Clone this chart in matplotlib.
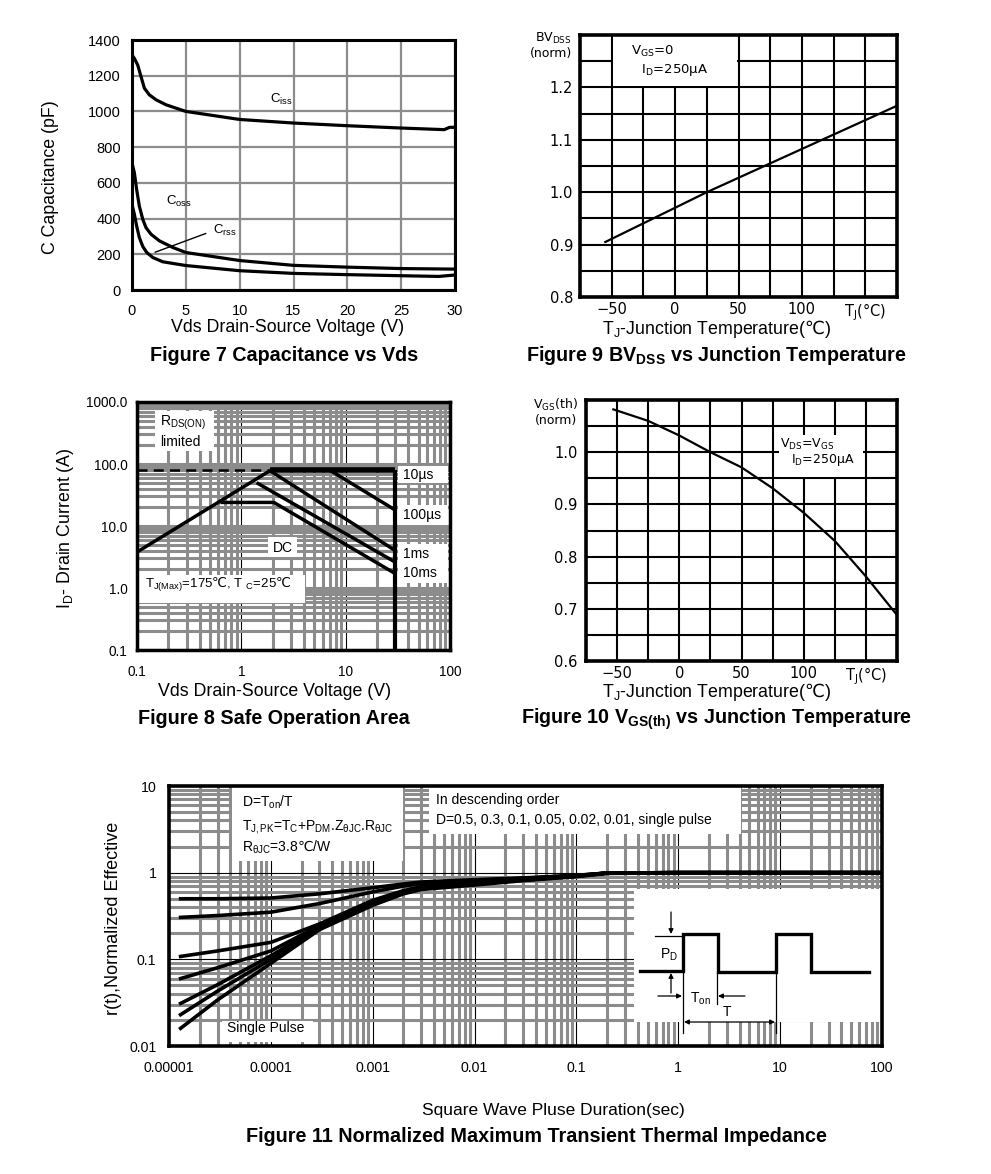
import numpy as np
import matplotlib
matplotlib.use('Agg')
import matplotlib.pyplot as plt
from matplotlib.patches import Rectangle
from matplotlib.ticker import LogLocator, NullFormatter, FixedLocator, FixedFormatter

plt.rcParams['font.family'] = ['Liberation Sans', 'DejaVu Sans']
plt.rcParams['mathtext.fontset'] = 'custom'
plt.rcParams['mathtext.rm'] = 'Liberation Sans'
plt.rcParams['mathtext.it'] = 'Liberation Sans:italic'
plt.rcParams['mathtext.bf'] = 'Liberation Sans:bold'
plt.rcParams['mathtext.sf'] = 'DejaVu Sans'
plt.rcParams['mathtext.default'] = 'regular'
plt.rcParams['mathtext.fallback'] = 'stixsans'

# ---------------- Data ----------------
# Figure 7: capacitance vs Vds
ciss_v = [0, 0.22, 0.53, 0.84, 1.15, 1.61, 2.24, 3.17, 5, 10, 15, 20, 25, 29, 29.5, 30]
ciss_pf = [1316, 1297, 1260, 1195, 1130, 1093, 1065, 1037, 1000, 955, 935, 920, 907, 898, 911, 911]
coss_v = [0, 0.22, 0.43, 0.68, 1.0, 1.3, 1.77, 2.55, 3.8, 5, 10, 15, 20, 25, 30]
coss_pf = [712, 656, 563, 470, 396, 349, 312, 275, 238, 210, 165, 138, 128, 120, 117]
crss_v = [0, 0.22, 0.43, 0.68, 1.0, 1.37, 1.93, 2.86, 5, 10, 15, 20, 25, 28.5, 30]
crss_pf = [480, 424, 359, 294, 244, 210, 182, 158, 137, 108, 93, 86, 80, 76, 84]

# Figure 8: safe operating area
soa_rds_v = [0.1, 1.88]
soa_rds_i = [3.8, 78]
soa_dash_v = [0.1, 1.88]
soa_dash_i = [80, 80]
soa_lim_v = [1.88, 30]
soa_lim_i = [80, 80]
soa_vmax_v = [30, 30]
soa_vmax_i = [80, 0.1]
soa_10us_v = [7.0, 30]
soa_10us_i = [80, 18]
soa_100us_v = [1.88, 30]
soa_100us_i = [78, 4.0]
soa_1ms_v = [1.4, 30]
soa_1ms_i = [50, 2.6]
soa_10ms_v = [0.63, 2.05, 30]
soa_10ms_i = [24, 24, 1.7]

# Figure 9: BVDSS vs Tj
bv_tj = [-55, 25, 175]
bv_norm = [0.905, 1.0, 1.165]

# Figure 10: VGS(th) vs Tj
vth_tj = [-53, -25, 0, 25, 50, 75, 100, 125, 150, 175]
vth_norm = [1.082, 1.06, 1.032, 1.0, 0.971, 0.931, 0.884, 0.83, 0.762, 0.688]

# Figure 11: transient thermal impedance
zth_t = [1.3e-5, 3e-5, 1e-4, 3e-4, 1e-3, 2e-3, 3e-3, 1e-2, 3e-2, 1e-1, 2e-1, 1, 10, 100]
zth_d05 = [0.50, 0.50, 0.51, 0.57, 0.67, 0.74, 0.78, 0.83, 0.87, 0.93, 0.99, 1.0, 1.0, 1.0]
zth_d03 = [0.305, 0.32, 0.35, 0.44, 0.60, 0.70, 0.75, 0.81, 0.86, 0.93, 0.99, 1.0, 1.0, 1.0]
zth_d01 = [0.108, 0.125, 0.157, 0.256, 0.48, 0.62, 0.69, 0.78, 0.85, 0.92, 0.99, 1.0, 1.0, 1.0]
zth_d005 = [0.060, 0.080, 0.125, 0.245, 0.46, 0.60, 0.67, 0.77, 0.84, 0.92, 0.99, 1.0, 1.0, 1.0]
zth_d002 = [0.031, 0.051, 0.110, 0.235, 0.44, 0.59, 0.66, 0.75, 0.83, 0.91, 0.99, 1.0, 1.0, 1.0]
zth_d001 = [0.023, 0.043, 0.100, 0.230, 0.43, 0.58, 0.65, 0.74, 0.82, 0.91, 0.99, 1.0, 1.0, 1.0]
zth_single = [0.016, 0.034, 0.090, 0.220, 0.42, 0.57, 0.64, 0.72, 0.81, 0.90, 0.98, 1.0, 1.0, 1.0]

# ---------------- Figure ----------------
W, H = 991, 1174
fig = plt.figure(figsize=(W / 100, H / 100), dpi=100)
fig.patch.set_facecolor('white')

DEGC = '$\\mathsf{\u2103}$'
LAB = 12.8
TIT = 14.2


def ax_px(l, t, r, b):
    return fig.add_axes([l / W, 1 - b / H, (r - l) / W, (b - t) / H])


def ftext(x, y, s, **kw):
    return fig.text(x / W, 1 - y / H, s, **kw)


def frame(ax, lw):
    for sp in ax.spines.values():
        sp.set_linewidth(lw)
        sp.set_color('black')


GRAY = '#8c8c8c'
TXT = dict(ha='center', va='center')

# ---- Figure 7 ----
ax7 = ax_px(132, 40, 455, 290)
ax7.set_xlim(0, 30)
ax7.set_ylim(0, 1400)
ax7.set_xticks(range(0, 31, 5))
ax7.set_yticks(range(0, 1401, 200))
ax7.grid(color=GRAY, lw=1.6)
ax7.tick_params(length=0, labelsize=10.5)
ax7.tick_params(axis='x', pad=10)
ax7.tick_params(axis='y', pad=8)
frame(ax7, 2.2)
for xv, yv in ((ciss_v, ciss_pf), (coss_v, coss_pf), (crss_v, crss_pf)):
    ax7.plot(xv, yv, color='black', lw=2.3, zorder=3, solid_capstyle='butt')
ax7.text(12.8, 1067, 'C$_{iss}$', fontsize=9.5, va='center')
ax7.text(3.2, 498, 'C$_{oss}$', fontsize=9.5, va='center')
ax7.text(7.5, 331, 'C$_{rss}$', fontsize=9.5, va='center')
ax7.annotate('', xy=(1.9, 206), xytext=(7.1, 322),
             arrowprops=dict(arrowstyle='-', lw=1.0, color='black'))
ftext(288, 328, 'Vds Drain-Source Voltage (V)', fontsize=LAB, **TXT)
ftext(51, 177, 'C Capacitance (pF)', fontsize=LAB, rotation=90, **TXT)
ftext(284, 355, 'Figure 7 Capacitance vs Vds', fontsize=TIT, fontweight='bold', **TXT)

# ---- Figure 8 ----
ax8 = ax_px(137, 402, 450, 650)
ax8.set_xscale('log')
ax8.set_yscale('log')
ax8.set_xlim(0.1, 100)
ax8.set_ylim(0.1, 1000)
ax8.xaxis.set_major_locator(FixedLocator([0.1, 1, 10, 100]))
ax8.xaxis.set_major_formatter(FixedFormatter(['0.1', '1', '10', '100']))
ax8.yaxis.set_major_locator(FixedLocator([0.1, 1, 10, 100, 1000]))
ax8.yaxis.set_major_formatter(FixedFormatter(['0.1', '1.0', '10.0', '100.0', '1000.0']))
for axis in (ax8.xaxis, ax8.yaxis):
    axis.set_minor_locator(LogLocator(base=10, subs=np.arange(2, 10), numticks=20))
    axis.set_minor_formatter(NullFormatter())
ax8.xaxis.grid(True, which='minor', color=GRAY, lw=2.2)
ax8.yaxis.grid(True, which='minor', color=GRAY, lw=2.2)
ax8.xaxis.grid(True, which='major', color='black', lw=0.8)
ax8.yaxis.grid(True, which='major', color=GRAY, lw=2.2)
ax8.tick_params(which='both', length=0, labelsize=9.8)
ax8.tick_params(axis='x', pad=11)
ax8.tick_params(axis='y', pad=7)
frame(ax8, 2.5)
for (x0, x1, y0, y1) in ((0.15, 0.55, 164, 725), (32, 95, 49, 93), (32, 95, 10.4, 21.8),
                         (32, 95, 1.2, 5.1), (1.8, 3.4, 3.2, 6.6), (0.104, 4.1, 0.57, 1.6)):
    ax8.add_patch(Rectangle((x0, y0), x1 - x0, y1 - y0, facecolor='white', edgecolor='none', zorder=2))
ax8.plot(soa_dash_v, soa_dash_i, color='black', lw=1.8, ls=(0, (4, 2.5)), zorder=3)
for xv, yv, lw in ((soa_rds_v, soa_rds_i, 2.5), (soa_lim_v, soa_lim_i, 4.0), (soa_vmax_v, soa_vmax_i, 3.0),
                   (soa_10us_v, soa_10us_i, 2.5), (soa_100us_v, soa_100us_i, 2.5),
                   (soa_1ms_v, soa_1ms_i, 2.5), (soa_10ms_v, soa_10ms_i, 2.5)):
    ax8.plot(xv, yv, color='black', lw=lw, zorder=3, solid_capstyle='butt')
ax8.text(0.166, 457, 'R$_{DS(ON)}$', fontsize=10, va='center', zorder=4)
ax8.text(0.166, 226, 'limited', fontsize=10, va='center', zorder=4)
ax8.text(35.5, 66, '10µs', fontsize=10, va='center', zorder=4)
ax8.text(35.5, 15, '100µs', fontsize=10, va='center', zorder=4)
ax8.text(35.5, 3.5, '1ms', fontsize=10, va='center', zorder=4)
ax8.text(35.5, 1.75, '10ms', fontsize=10, va='center', zorder=4)
ax8.text(2.0, 4.4, 'DC', fontsize=10, va='center', zorder=4)
ax8.text(0.119, 1.12, 'T$_{J(Max)}$=175' + DEGC + ', T $_C$=25' + DEGC, fontsize=9.5, va='center', zorder=4)
ftext(65, 528, 'I$_D$- Drain Current (A)', fontsize=LAB, rotation=90, **TXT)
ftext(275, 692, 'Vds Drain-Source Voltage (V)', fontsize=LAB, **TXT)
ftext(274, 718, 'Figure 8 Safe Operation Area', fontsize=TIT, fontweight='bold', **TXT)


# ---- Figures 9 and 10 ----
def temp_axes(ax, ylo, yhi, ylabels):
    ax.set_xlim(-75, 175)
    ax.set_ylim(ylo, yhi)
    xt = list(range(-75, 176, 25))
    xl = {-50: '\u221250', 0: '0', 50: '50', 100: '100', 150: 'T$_J$(°C)'}
    ax.xaxis.set_major_locator(FixedLocator(xt))
    ax.xaxis.set_major_formatter(FixedFormatter([xl.get(v, '') for v in xt]))
    yt = [round(ylo + 0.05 * k, 2) for k in range(int(round((yhi - ylo) / 0.05)) + 1)]
    ax.yaxis.set_major_locator(FixedLocator(yt))
    ax.yaxis.set_major_formatter(FixedFormatter([('%.1f' % v) if v in ylabels else '' for v in yt]))
    ax.grid(color='black', lw=1.5)
    ax.tick_params(length=0, labelsize=10.5)
    for lab in ax.get_xticklabels() + ax.get_yticklabels():
        lab.set_fontfamily('DejaVu Sans')
    frame(ax, 2.6)


ax9 = ax_px(580, 35, 897, 297)
temp_axes(ax9, 0.8, 1.3, [0.8, 0.9, 1.0, 1.1, 1.2])
ax9.tick_params(axis='x', pad=3.5)
ax9.tick_params(axis='y', pad=5)
ax9.add_patch(Rectangle((-49, 1.202), 98, 0.1, facecolor='white', edgecolor='none', zorder=2))
ax9.plot(bv_tj, bv_norm, color='black', lw=1.6, zorder=3)
ax9.text(-35, 1.268, 'V$_{GS}$=0', fontsize=9.5, va='center', family='DejaVu Sans', zorder=4)
ax9.text(-27, 1.234, 'I$_D$=250$\\mu$A', fontsize=9.5, va='center', family='DejaVu Sans', zorder=4)
ftext(572, 38, 'BV$_{DSS}$', fontsize=9, ha='right', va='center', family='DejaVu Sans')
ftext(572, 54, '(norm)', fontsize=9, ha='right', va='center', family='DejaVu Sans')
ftext(717, 329, 'T$_J$-Junction Temperature(' + DEGC + ')', fontsize=LAB, **TXT)
ftext(716, 355, 'Figure 9 BV$_{DSS}$ vs Junction Temperature', fontsize=TIT, fontweight='bold', **TXT)

ax10 = ax_px(586, 400, 897, 661)
temp_axes(ax10, 0.6, 1.1, [0.6, 0.7, 0.8, 0.9, 1.0])
ax10.tick_params(axis='x', pad=3.5)
ax10.tick_params(axis='y', pad=6)
ax10.add_patch(Rectangle((80.5, 0.953), 67.5, 0.08, facecolor='white', edgecolor='none', zorder=2))
ax10.plot(vth_tj, vth_norm, color='black', lw=1.6, zorder=3)
ax10.text(81, 1.014, 'V$_{DS}$=V$_{GS}$', fontsize=9, va='center', family='DejaVu Sans', zorder=4)
ax10.text(89.5, 0.986, 'I$_D$=250$\\mu$A', fontsize=9, va='center', family='DejaVu Sans', zorder=4)
ftext(578, 405, 'V$_{GS}$(th)', fontsize=9, ha='right', va='center', family='DejaVu Sans')
ftext(577, 420, '(norm)', fontsize=9, ha='right', va='center', family='DejaVu Sans')
ftext(717, 692, 'T$_J$-Junction Temperature(' + DEGC + ')', fontsize=LAB, **TXT)
ftext(717, 719, 'Figure 10 V$_{GS(th)}$ vs Junction Temperature', fontsize=TIT, fontweight='bold', **TXT)

# ---- Figure 11 ----
ax11 = ax_px(169, 786, 882, 1046)
ax11.set_xscale('log')
ax11.set_yscale('log')
ax11.set_xlim(1e-5, 100)
ax11.set_ylim(0.01, 10)
xt11 = [1e-5, 1e-4, 1e-3, 1e-2, 1e-1, 1, 10, 100]
ax11.xaxis.set_major_locator(FixedLocator(xt11))
ax11.xaxis.set_major_formatter(FixedFormatter(['0.00001', '0.0001', '0.001', '0.01', '0.1', '1', '10', '100']))
ax11.yaxis.set_major_locator(FixedLocator([0.01, 0.1, 1, 10]))
ax11.yaxis.set_major_formatter(FixedFormatter(['0.01', '0.1', '1', '10']))
for axis in (ax11.xaxis, ax11.yaxis):
    axis.set_minor_locator(LogLocator(base=10, subs=np.arange(2, 10), numticks=20))
    axis.set_minor_formatter(NullFormatter())
ax11.grid(True, which='minor', color=GRAY, lw=2.2)
ax11.grid(True, which='major', color='black', lw=0.8)
ax11.tick_params(which='both', length=0, labelsize=10.2)
ax11.tick_params(axis='x', pad=11)
ax11.tick_params(axis='y', pad=9)
frame(ax11, 2.6)
for (x0, x1, y0, y1) in ((4.2e-5, 2.0e-3, 1.375, 10), (3.6e-3, 4.15, 2.8, 10),
                         (3.3e-5, 2.6e-4, 0.011, 0.0196), (0.37, 100, 0.019, 0.65)):
    ax11.add_patch(Rectangle((x0, y0), x1 - x0, y1 - y0, facecolor='white', edgecolor='none', zorder=2))
for yv in (zth_d05, zth_d03, zth_d01, zth_d005, zth_d002, zth_d001, zth_single):
    ax11.plot(zth_t, yv, color='black', lw=2.6, zorder=3)
ax11.text(5.2e-5, 6.4, 'D=T$_{on}$/T', fontsize=10, va='center', zorder=4)
ax11.text(5.2e-5, 3.4, 'T$_{J,PK}$=T$_C$+P$_{DM}$.Z$_{\\theta JC}$.R$_{\\theta JC}$', fontsize=10,
          va='center', zorder=4)
ax11.text(5.2e-5, 1.98, 'R$_{\\theta JC}$=3.8' + DEGC + '/W', fontsize=10, va='center', zorder=4)
ax11.text(4.15e-3, 6.9, 'In descending order', fontsize=10, va='center', zorder=4)
ax11.text(4.15e-3, 4.06, 'D=0.5, 0.3, 0.1, 0.05, 0.02, 0.01, single pulse', fontsize=10, va='center', zorder=4)
ax11.text(3.7e-5, 0.016, 'Single Pulse', fontsize=10, va='center', zorder=4)
ftext(113, 918, 'r(t),Normalized Effective', fontsize=13, rotation=90, **TXT)
ftext(553, 1110, 'Square Wave Pluse Duration(sec)', fontsize=12.5, **TXT)
ftext(536, 1137, 'Figure 11 Normalized Maximum Transient Thermal Impedance', fontsize=TIT,
      fontweight='bold', **TXT)

# ---- Pulse schematic inset (pixel coordinates of the figure) ----
ov = fig.add_axes([0, 0, 1, 1], zorder=10)
ov.set_xlim(0, W)
ov.set_ylim(H, 0)
ov.axis('off')
ov.patch.set_alpha(0)
ov.plot([640, 683, 683, 718, 718, 776, 776, 811, 811, 869],
        [971, 971, 934, 934, 972, 972, 934, 934, 972, 972], color='black', lw=2.4,
        solid_joinstyle='miter')
ov.plot([655, 683], [936, 936], color='black', lw=0.9)
ov.plot([683, 683], [972, 1033], color='black', lw=0.9)
ov.plot([717, 717], [972, 1004], color='black', lw=0.9)
ov.plot([776, 776], [972, 1033], color='black', lw=0.9)
arr = dict(arrowstyle='-|>', lw=0.9, color='black', mutation_scale=7, shrinkA=0, shrinkB=0)
ov.annotate('', xy=(671, 934), xytext=(671, 912), arrowprops=arr)
ov.annotate('', xy=(671, 973), xytext=(671, 993), arrowprops=arr)
ov.annotate('', xy=(682, 996), xytext=(658, 996), arrowprops=arr)
ov.annotate('', xy=(718, 996), xytext=(745, 996), arrowprops=arr)
ov.annotate('', xy=(684, 1022), xytext=(775, 1022),
            arrowprops=dict(arrowstyle='<|-|>', lw=0.9, color='black', mutation_scale=7, shrinkA=0, shrinkB=0))
ov.text(669, 955, 'P$_D$', fontsize=10, ha='center', va='center')
ov.text(700, 999, 'T$_{on}$', fontsize=10, ha='center', va='center')
ov.text(727, 1012, 'T', fontsize=10, ha='center', va='center')

fig.savefig('out.png', dpi=100, facecolor='white')
